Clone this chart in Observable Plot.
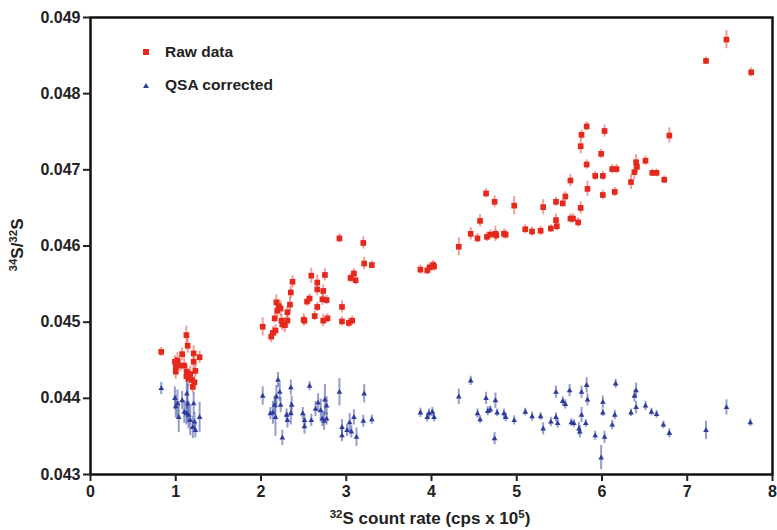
<!DOCTYPE html>
<html>
<head>
<meta charset="utf-8">
<script src="https://cdn.jsdelivr.net/npm/d3@7"></script>
<script src="https://cdn.jsdelivr.net/npm/@observablehq/plot@0.6"></script>
<style>
  body { margin: 0; background: white; }
  #wrap { position: relative; width: 777px; height: 530px; }
  .legend { position: absolute; left: 142px; top: 35px; font-family: 'Liberation Sans', Arial, sans-serif; font-weight: bold; font-size: 15.5px; color: #222; }
  .legend div { display: flex; align-items: center; height: 33px; }
  .legend svg { margin-right: 15px; }
</style>
</head>
<body>
<div id="wrap"></div>
<script>
// ---- Data ----
const seriesNames = ["Raw data", "QSA corrected"];
const xTicks = [0, 1, 2, 3, 4, 5, 6, 7, 8];
const yTicks = [0.043, 0.044, 0.045, 0.046, 0.047, 0.048, 0.049];

const rawX = [0.83,1.125,1.14,1.075,1.21,1.28,0.99,1.02,1.0,1.055,1.0,1.10,1.13,1.17,1.125,1.21,1.23,1.19,1.22,1.20,1.15,
2.92,3.20,3.21,3.30,3.05,3.09,3.11,2.59,2.75,2.66,2.66,2.73,2.37,2.35,2.54,2.57,2.72,2.77,2.34,2.66,2.18,2.21,2.23,2.31,2.95,2.16,2.31,2.24,2.50,2.63,2.73,2.78,2.25,2.28,2.95,3.03,3.07,2.02,2.17,2.14,2.12,2.19,2.51,
3.87,3.95,3.98,4.02,4.03,4.32,4.46,4.54,4.57,4.65,4.69,4.75,4.76,4.64,4.74,4.85,4.87,4.97,5.10,5.18,5.28,5.31,5.40,5.46,5.47,5.46,5.54,5.57,5.63,5.66,5.72,5.75,5.83,5.63,
5.75,5.76,5.82,5.82,5.92,5.99,6.01,6.01,6.03,6.12,6.17,6.15,6.34,6.38,6.40,6.41,6.51,6.59,6.64,6.73,6.79,
7.22,7.46,7.75];
const rawY = [0.04461,0.04483,0.04469,0.04458,0.04459,0.04454,0.04448,0.0445,0.04441,0.04443,0.04435,0.04443,0.04435,0.04432,0.04429,0.04448,0.04436,0.04424,0.04421,0.04415,0.04426,
0.0461,0.04604,0.04577,0.04575,0.04558,0.04564,0.04555,0.04561,0.04562,0.04552,0.04543,0.04541,0.04553,0.04539,0.04527,0.04531,0.0453,0.04529,0.04523,0.0452,0.04526,0.04521,0.04518,0.04513,0.0452,0.04505,0.04502,0.04502,0.04503,0.04508,0.04502,0.04505,0.04497,0.04496,0.04501,0.04499,0.04502,0.04494,0.04489,0.04486,0.04481,0.04515,0.04502,
0.04569,0.04568,0.04572,0.04575,0.04573,0.04599,0.04616,0.0461,0.04633,0.04612,0.04615,0.04616,0.04614,0.04669,0.04658,0.04616,0.04615,0.04653,0.04622,0.04619,0.0462,0.04651,0.04623,0.04634,0.04626,0.04658,0.04656,0.04665,0.04636,0.04636,0.04631,0.0465,0.04675,0.04686,
0.04731,0.04746,0.04757,0.04707,0.04692,0.04721,0.04692,0.04667,0.04751,0.04701,0.04701,0.04671,0.04684,0.04697,0.0471,0.04704,0.04712,0.04696,0.04696,0.04687,0.04745,
0.04843,0.04871,0.04828];
const rawErr = [0.00006,0.00012,0.0001,0.00008,0.0001,0.00008,0.00008,0.0001,0.0001,0.00008,0.0001,0.0001,0.00008,0.0001,0.00008,0.0001,0.00008,0.0001,0.00008,0.00008,0.0001,
0.00006,0.00008,0.00008,0.00005,0.00006,0.00006,0.00006,0.0001,0.00008,0.0001,0.00008,0.00008,0.00008,0.00008,0.00006,0.00006,0.00008,0.00006,0.0001,0.00006,0.0001,0.00008,0.0001,0.00008,0.00008,0.00006,0.00008,0.00008,0.00008,0.00006,0.00008,0.00006,0.00008,0.0001,0.00006,0.00006,0.00006,0.00012,0.00008,0.00008,0.00008,0.0001,0.00006,
0.00006,0.00006,0.00006,0.00006,0.00006,0.00012,0.00008,0.00006,0.00008,0.00006,0.00006,0.0001,0.00006,0.00006,0.00008,0.00006,0.00006,0.00012,0.00006,0.00006,0.00006,0.0001,0.00005,0.00008,0.00006,0.00006,0.00005,0.00006,0.00006,0.00006,0.00006,0.00008,0.0001,0.00008,
0.0001,0.00006,0.00006,0.00006,0.00006,0.00006,0.00006,0.00006,0.00008,0.00006,0.00006,0.00006,0.0001,0.0001,0.0001,0.00008,0.00006,0.00005,0.00005,0.00005,0.0001,
0.00005,0.00012,0.00006];

const qsaX = [0.83,0.99,1.02,1.0,1.035,1.075,1.13,1.125,1.15,1.10,1.17,1.21,1.20,1.22,1.28,1.23,1.14,
2.02,2.20,2.22,2.18,2.16,2.11,2.14,2.17,2.23,2.25,2.30,2.31,2.35,2.36,2.35,2.49,2.51,2.51,2.57,2.59,2.64,2.67,2.70,2.72,2.75,2.77,2.74,2.77,2.92,2.95,2.95,3.01,3.04,3.06,3.09,3.12,3.21,3.20,3.30,
3.87,3.95,3.97,4.01,4.03,4.32,4.46,4.54,4.57,4.64,4.66,4.69,4.75,4.77,4.74,4.85,4.87,
4.97,5.10,5.18,5.28,5.31,5.40,5.46,5.46,5.48,5.54,5.57,5.62,5.64,5.67,5.73,5.74,5.76,5.76,5.82,5.83,5.81,5.92,6.01,6.01,5.99,6.03,6.12,6.15,6.16,6.34,6.38,6.40,6.40,6.51,6.58,6.64,6.72,6.79,
7.22,7.46,7.74];
const qsaY = [0.04413,0.044,0.04393,0.04389,0.04375,0.04397,0.04406,0.0438,0.04378,0.04382,0.04371,0.04393,0.04362,0.04369,0.04375,0.04358,0.04393,
0.04403,0.04424,0.04408,0.04402,0.04391,0.0438,0.04381,0.04375,0.04391,0.04348,0.04378,0.04371,0.04414,0.04391,0.0438,0.0438,0.04371,0.04363,0.04416,0.04371,0.04386,0.04394,0.04384,0.04373,0.04398,0.0439,0.0437,0.04373,0.04408,0.04362,0.04351,0.04358,0.04368,0.04356,0.04375,0.04349,0.04406,0.0437,0.04372,
0.04381,0.04375,0.0438,0.04382,0.04375,0.04402,0.04423,0.0438,0.04372,0.044,0.04383,0.04385,0.04397,0.04381,0.04347,0.0438,0.04375,
0.04371,0.04382,0.04376,0.04376,0.0436,0.04369,0.04408,0.04375,0.04367,0.04396,0.04392,0.0441,0.04368,0.04367,0.0436,0.04356,0.04378,0.04408,0.04417,0.04398,0.04367,0.04351,0.04395,0.04381,0.04322,0.04349,0.04365,0.04378,0.04419,0.04381,0.04403,0.0441,0.04388,0.0439,0.04382,0.04379,0.04365,0.04354,
0.04358,0.04388,0.04368];
const qsaErr = [0.00008,0.00015,0.00018,0.00015,0.0002,0.00012,0.0002,0.00015,0.00018,0.00015,0.0002,0.00015,0.00015,0.00012,0.0002,0.0001,0.00025,
0.00012,0.0001,0.00012,0.00015,0.00012,0.00008,0.00015,0.00025,0.0001,0.0001,0.00008,0.0001,0.0001,0.00012,0.00015,0.00008,0.00008,0.0001,0.00006,0.00008,0.0001,0.00012,0.00015,0.0001,0.0002,0.00012,0.00012,0.00008,0.00018,0.0001,0.00008,0.00008,0.00012,0.00008,0.0001,0.00012,0.00012,0.00008,0.00006,
0.00006,0.00006,0.00006,0.00006,0.00006,0.0001,0.00006,0.00006,0.00005,0.00008,0.00006,0.00005,0.0001,0.00005,0.00008,0.00006,0.00006,
0.00006,0.00005,0.00006,0.00005,0.00008,0.00006,0.00008,0.00006,0.00006,0.00006,0.00006,0.00008,0.00005,0.00005,0.00008,0.00008,0.0001,0.00008,0.0001,0.00008,0.00005,0.00006,0.00008,0.00005,0.00016,0.00008,0.00006,0.00006,0.00006,0.00005,0.00008,0.0001,0.00008,0.00006,0.00005,0.00005,0.00005,0.00006,
0.00012,0.0001,0.00005];

const colors = { raw: "#e4291c", qsa: "#2c3b9c" };

const raw = rawX.map((x, i) => ({ x, y: rawY[i], e: rawErr[i] ?? 0.00007 }));
const qsa = qsaX.map((x, i) => ({ x, y: qsaY[i], e: qsaErr[i] ?? 0.0001 }));

const svg = Plot.plot({
  width: 777,
  height: 530,
  marginLeft: 90,
  marginRight: 5,
  marginTop: 17,
  marginBottom: 56,
  x: { domain: [0, 8] },
  y: { domain: [0.043, 0.049] },
  style: { fontFamily: "'Liberation Sans Narrow', 'Liberation Sans', Arial, sans-serif", fontSize: "16px", fontWeight: "bold", color: "#222", background: "white" },
  marks: [
    Plot.ruleX(raw, { x: "x", y1: d => d.y - d.e, y2: d => d.y + d.e, stroke: colors.raw, strokeOpacity: 0.45, strokeWidth: 2 }),
    Plot.ruleX(qsa, { x: "x", y1: d => d.y - d.e, y2: d => d.y + d.e, stroke: colors.qsa, strokeOpacity: 0.5, strokeWidth: 2 }),
    Plot.dot(raw, { x: "x", y: "y", symbol: "square", r: 3.2, fill: colors.raw }),
    Plot.dot(qsa, { x: "x", y: "y", symbol: "triangle", r: 2.1, fill: colors.qsa }),
    Plot.frame({ stroke: "#111", strokeWidth: 2.5 }),
    Plot.axisX({ ticks: xTicks, tickFormat: "d", tickSize: 7, tickPadding: 4, strokeWidth: 2, label: null }),
    Plot.axisY({ ticks: yTicks, tickFormat: d3.format(".3f"), tickSize: 7, tickPadding: 3, strokeWidth: 2, label: null })
  ]
});

const s = d3.select(svg);
// Y-axis label: 34S/32S
const yl = s.append("text")
  .attr("transform", "translate(23,245) rotate(-90)")
  .attr("text-anchor", "middle")
  .attr("font-family", "'Liberation Sans', Arial, sans-serif")
  .attr("font-weight", "bold")
  .attr("font-size", 17)
  .attr("fill", "#222");
yl.append("tspan").attr("font-size", 11.5).attr("dy", -6).text("34");
yl.append("tspan").attr("dy", 6).text("S/");
yl.append("tspan").attr("font-size", 11.5).attr("dy", -6).text("32");
yl.append("tspan").attr("dy", 6).text("S");

// X-axis label: 32S count rate (cps x 10^5)
const xl = s.append("text")
  .attr("x", 430).attr("y", 524)
  .attr("text-anchor", "middle")
  .attr("font-family", "'Liberation Sans', Arial, sans-serif")
  .attr("font-size", 17)
  .attr("fill", "#222");
xl.append("tspan").attr("font-size", 11.5).attr("dy", -6).text("32");
xl.append("tspan").attr("dy", 6).text("S count rate (cps x 10");
xl.append("tspan").attr("font-size", 11.5).attr("dy", -6).text("5");
xl.append("tspan").attr("dy", 6).text(")");

const wrap = document.getElementById("wrap");
wrap.appendChild(svg);

// Legend overlay
const leg = document.createElement("div");
leg.className = "legend";
leg.innerHTML = `
  <div><svg width="8" height="8"><rect x="1" y="1" width="6" height="6" fill="${colors.raw}"/></svg>${seriesNames[0]}</div>
  <div><svg width="8" height="8"><path d="M4,2 L7,7 L1,7 Z" fill="${colors.qsa}"/></svg>${seriesNames[1]}</div>`;
wrap.appendChild(leg);
</script>
</body>
</html>
